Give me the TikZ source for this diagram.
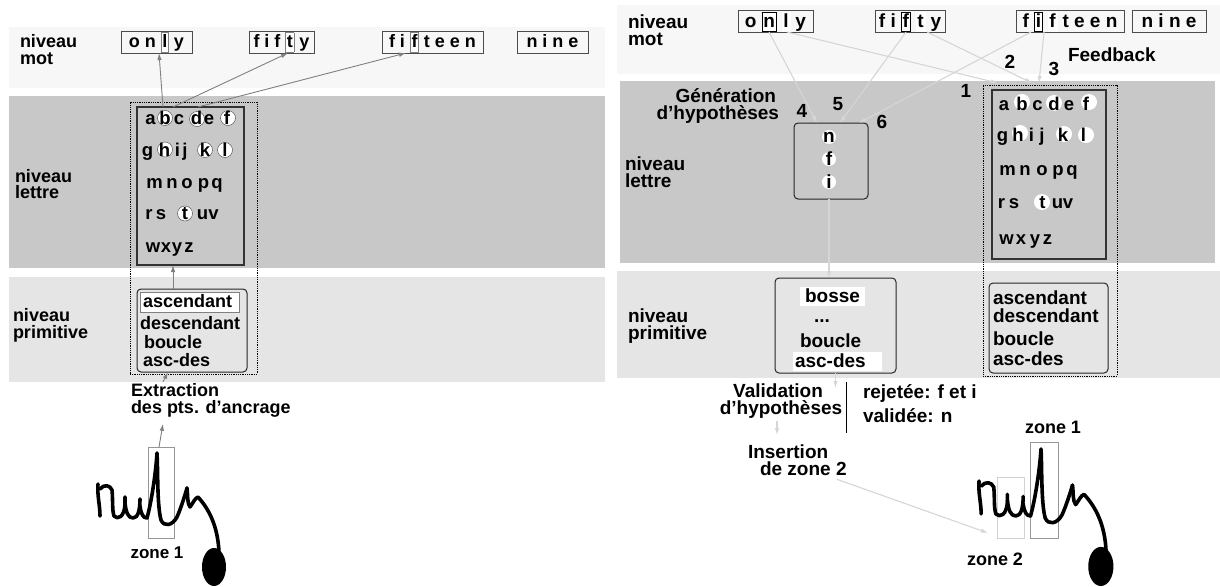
\documentclass[tikz,border=0pt]{standalone}
\usepackage{fontspec}
\setmainfont{Liberation Sans}
\usetikzlibrary{arrows.meta,calc}

\definecolor{wband}{RGB}{247,247,247}
\definecolor{lband}{RGB}{200,200,200}
\definecolor{pband}{RGB}{229,229,229}
\definecolor{arrL}{RGB}{128,128,128}
\definecolor{arrR}{RGB}{214,214,214}
\definecolor{zgray}{RGB}{150,150,150}
\definecolor{zlight}{RGB}{210,210,210}

\newcommand{\hlg}[1]{{\setlength{\fboxsep}{0.8pt}\setlength{\fboxrule}{0.7pt}\fcolorbox{gray}{white}{\rule[-3pt]{0pt}{17pt}#1}}}
\newcommand{\hlk}[1]{{\setlength{\fboxsep}{0.8pt}\setlength{\fboxrule}{0.8pt}\fcolorbox{black}{white}{\rule[-3pt]{0pt}{17pt}#1}}}
\newcommand{\hlw}[1]{{\setlength{\fboxsep}{0.8pt}\setlength{\fboxrule}{0.7pt}\fcolorbox{white}{white}{\rule[-3pt]{0pt}{17pt}#1}}}

\newcommand{\handonly}{%
  \draw[hw] (98,484) .. controls (97,495) and (100,505) .. (100,516);
  \draw[hw] (100,489) .. controls (104,484) and (110,485) .. (112,490) .. controls (113,500) and (112,510) .. (114,516) .. controls (118,520) and (124,517) .. (125,505) -- (125,497);
  \draw[hw] (125,503) .. controls (126,512) and (128,518) .. (133,518) .. controls (138,518) and (140,510) .. (140,499);
  \draw[hw] (140,506) .. controls (141,514) and (143,518) .. (147,518) .. controls (152,500) and (156,470) .. (157,453) .. controls (158,470) and (157,505) .. (161,520) .. controls (164,527) and (172,526) .. (177,517) .. controls (181,508) and (185,495) .. (187,488);
  \draw[hw] (187,488) .. controls (188,496) and (187,503) .. (190,507) .. controls (193,503) and (195,498) .. (198,497) .. controls (208,508) and (218,525) .. (219,553);
  \fill[black] (214,567) ellipse [x radius=12, y radius=19];
}

\begin{document}
\begin{tikzpicture}[x=1pt,y=-1pt,
  fL/.style={font=\bfseries\fontsize{18}{16}\selectfont},
  fR/.style={font=\bfseries\fontsize{19}{17}\selectfont},
  fG/.style={font=\bfseries\fontsize{18.5}{18}\selectfont},
  txt/.style={inner sep=0pt, outer sep=0pt},
  wbox/.style={draw=black!70, line width=0.9pt, inner sep=0pt, outer sep=0pt},
  lbox/.style={draw=black!80, line width=1.1pt, inner sep=0pt, outer sep=0pt},
  rbox/.style={draw=black!85, line width=1pt, rounded corners=4pt, inner sep=0pt, outer sep=0pt},
  dotbox/.style={draw=black, line width=0.8pt, densely dotted, inner sep=0pt, outer sep=0pt},
  wfill/.style={fill=white, inner sep=0pt, outer sep=0pt},
  larr/.style={draw=arrL, line width=0.9pt, -{Latex[length=7pt,width=4.5pt]}},
  rarr/.style={draw=arrR, line width=1.1pt, -{Latex[length=7pt,width=4.5pt]}},
  hcL/.style={circle, fill=white, draw=black!65, line width=0.5pt, minimum size=15pt, inner sep=0pt},
  hcR/.style={circle, fill=white, minimum size=15pt, inner sep=0pt},
  zbox/.style={draw=zgray, line width=0.8pt, inner sep=0pt, outer sep=0pt},
  hw/.style={draw=black, line width=3.6pt, line cap=round, line join=round}
]
\useasboundingbox (0,0) rectangle (1220,586);
\fill[white] (0,0) rectangle (1220,586);

% ---------------- bands
\fill[wband] (9,27) rectangle (605,88);
\fill[lband] (9,96) rectangle (605,268);
\fill[pband] (9,277) rectangle (605,382);
\fill[wband] (617,5) rectangle (1220,74);
\fill[lband] (620,81) rectangle (1215,263);
\fill[pband] (617,271) rectangle (1220,378);

% ---------------- LEFT PANEL
\node[txt,fL,anchor=base west] (lm1) at (20,48) {niveau};
\node[txt,fL,anchor=base west] (lm2) at (20,64) {mot};
\node[txt,fL,anchor=base west] (ll1) at (15,182) {niveau};
\node[txt,fL,anchor=base west] (ll2) at (15,198) {lettre};
\node[txt,fL,anchor=base west] (lp1) at (13,321) {niveau};
\node[txt,fL,anchor=base west] (lp2) at (13,338) {primitive};

\node[wbox,fL,minimum width=71pt,minimum height=22pt,text height=14pt,text depth=2pt] (w1) at (156.5,42) {o n \hlg{l} y};
\node[wbox,fL,minimum width=65pt,minimum height=22pt,text height=14pt,text depth=2pt] (w2) at (281.5,42) {f i f \hlg{t} y};
\node[wbox,fL,minimum width=101pt,minimum height=22pt,text height=14pt,text depth=2pt] (w3) at (432.5,42) {f i \hlg{f} t e e n};
\node[wbox,fL,minimum width=71pt,minimum height=22pt,text height=14pt,text depth=2pt] (w4) at (552.5,42) {n i n e};

\node[dotbox,minimum width=127pt,minimum height=272pt] (ldot) at (193.5,238) {};
\node[lbox,minimum width=107pt,minimum height=158pt] (lbox) at (190.5,186) {};

\foreach \x/\y [count=\i] in {165/118,197/119,228/118,165/149.5,205/150,225/150,185/213.5}
  \node[hcL] (lc\i) at (\x,\y) {};
\foreach \c/\x/\y [count=\i] in {a/150.5/124,b/165/124,c/179/124,d/196.5/124,e/209/124,f/227/124,
  g/147.5/156,h/164.5/156,i/177.5/156,j/185/156,k/205/156,l/225/156,
  m/154.5/188,n/172/188,o/187/188,p/203.5/188,q/217/188,
  r/149/219,s/161/219,t/185/219,u/202.5/219,v/213.5/219,
  w/153/252,x/166/252,y/177/252,z/189/252}
  \node[txt,fG,anchor=base] (ll\i) at (\x,\y) {\c};

\node[rbox,minimum width=110pt,minimum height=83pt] (pbox) at (192,330.5) {};
\node[wfill,draw=gray,line width=0.7pt,minimum width=99pt,minimum height=20pt] (ascw) at (189.5,302) {};
\node[txt,fL,anchor=base west] (lpa) at (143,307) {ascendant};
\node[txt,fL,anchor=base west] (lpd) at (140,329) {descendant};
\node[txt,fL,anchor=base west] (lpb) at (144,348) {boucle};
\node[txt,fL,anchor=base west] (lpc) at (143,366) {asc-des};

\node[txt,fL,anchor=base west] (ext1) at (131,396) {Extraction};
\node[txt,fL,anchor=base west] (ext2) at (131,413) {des pts. d’ancrage};

\node[zbox,minimum width=26pt,minimum height=91pt] (z1) at (161,492.5) {};
\node[txt,font=\bfseries\fontsize{17}{15}\selectfont,anchor=base] (z1t) at (157,558) {zone 1};
\handonly

\draw[larr] ([shift={(26,0)}]lbox.north west) -- ([shift={(2.5,0)}]w1.south);
\draw[larr] ([shift={(36,0)}]lbox.north west) -- ([shift={(6.5,0)}]w2.south);
\draw[larr] ([shift={(61,0)}]lbox.north west) -- ([shift={(-26.5,0)}]w3.south);
\draw[larr] ([shift={(-19,0)}]pbox.north) -- ([shift={(-17.5,0)}]lbox.south);
\draw[larr] ([shift={(32,-1)}]ext1.north west) -- ([shift={(-24,0)}]pbox.south);
\draw[larr] ([shift={(-2,0)}]z1.north) -- ([shift={(32,7)}]ext2.south west);

% ---------------- RIGHT PANEL
\node[txt,fR,anchor=base west] (rm1) at (628,29) {niveau};
\node[txt,fR,anchor=base west] (rm2) at (628,46) {mot};
\node[txt,fR,anchor=base west] (rl1) at (625,170) {niveau};
\node[txt,fR,anchor=base west] (rl2) at (625,187) {lettre};
\node[txt,fR,anchor=base west] (rp1) at (628,322) {niveau};
\node[txt,fR,anchor=base west] (rp2) at (628,339) {primitive};

\node[wbox,fR,minimum width=75pt,minimum height=22pt,text height=15pt,text depth=2pt] (rw1) at (775.5,21) {o \hlk{n} \hlw{l} y};
\node[wbox,fR,minimum width=70pt,minimum height=22pt,text height=15pt,text depth=2pt] (rw2) at (910,21) {f i \hlk{f} \hlw{t} y};
\node[wbox,fR,minimum width=108pt,minimum height=22pt,text height=15pt,text depth=2pt] (rw3) at (1070,21) {f \hlk{i} \hlw{f} t e e n};
\node[wbox,fR,minimum width=74pt,minimum height=22pt,text height=15pt,text depth=2pt] (rw4) at (1169,21) {n i n e};

\node[txt,fR,anchor=base west] (fb) at (1068,62) {Feedback};
\node[txt,fR,anchor=base] (n1) at (966,97) {1};
\node[txt,fR,anchor=base] (n2) at (1010,68) {2};
\node[txt,fR,anchor=base] (n3) at (1054,75) {3};
\node[txt,fR,anchor=base] (n4) at (802,117) {4};
\node[txt,fR,anchor=base] (n5) at (838,110) {5};
\node[txt,fR,anchor=base] (n6) at (882,128) {6};
\node[txt,fR,anchor=base east] (gen1) at (776,102) {Génération};
\node[txt,fR,anchor=base east] (gen2) at (779,119) {d’hypothèses};

\node[rbox,minimum width=74pt,minimum height=76pt] (hyp) at (831,161) {};
\foreach \y [count=\i] in {137,159,182}
  \node[hcR,minimum size=14pt] (hc\i) at (829,\y) {};
\node[txt,fR,anchor=base] (hn) at (829,142) {n};
\node[txt,fR,anchor=base] (hf) at (829,165) {f};
\node[txt,fR,anchor=base] (hi) at (829,188) {i};

\node[dotbox,minimum width=134pt,minimum height=291pt] (rdot) at (1050,230.5) {};
\node[lbox,minimum width=114pt,minimum height=169pt] (rlbox) at (1049,174.5) {};
\foreach \x/\y [count=\i] in {1022/102,1054/103,1089/102,1020/133,1064/134,1086/135,1042/202}
  \node[hcR,minimum size=16pt] (rc\i) at (\x,\y) {};
\foreach \c/\x/\y [count=\i] in {a/1004/110,b/1022/110,c/1037.5/110,d/1054/110,e/1069/110,f/1086/110,
  g/1002.5/141,h/1018/141,i/1031.5/141,j/1042/141,k/1063/141,l/1083.5/141,
  m/1007.5/175,n/1025/175,o/1042/175,p/1058/175,q/1072/175,
  r/1001.5/208,s/1014/208,t/1042.5/208,u/1057.5/208,v/1068/208,
  w/1006.5/244,x/1021/244,y/1035/244,z/1047.5/244}
  \node[txt,fG,anchor=base] (rl\i) at (\x,\y) {\c};

\node[rbox,minimum width=121pt,minimum height=95pt] (bbox) at (835.5,325.5) {};
\node[wfill,minimum width=65pt,minimum height=19pt] (bossew) at (832.5,296) {};
\node[wfill,minimum width=89pt,minimum height=19pt] (ascdw) at (837.5,361) {};
\node[txt,fR,anchor=base] (bb1) at (832.5,302) {bosse};
\node[txt,fR,anchor=base] (bb2) at (822,322) {...};
\node[txt,fR,anchor=base west] (bb3) at (800,347) {boucle};
\node[txt,fR,anchor=base west] (bb4) at (795,367) {asc-des};

\node[rbox,minimum width=119pt,minimum height=90pt] (rpbox) at (1048.5,328) {};
\node[txt,fR,anchor=base west] (rpa) at (993,304) {ascendant};
\node[txt,fR,anchor=base west] (rpd) at (993,322) {descendant};
\node[txt,fR,anchor=base west] (rpb) at (993,345) {boucle};
\node[txt,fR,anchor=base west] (rpc) at (993,365) {asc-des};

\node[txt,fR,anchor=base] (val1) at (778,397) {Validation};
\node[txt,fR,anchor=base] (val2) at (781,414) {d’hypothèses};
\draw[black,line width=1pt] (846,382) -- (846,433);
\node[txt,fR,anchor=base west] (rej) at (863,398) {rejetée: f et i};
\node[txt,fR,anchor=base west] (vald) at (863,422) {validée: n};
\node[txt,fR,anchor=base west] (ins1) at (748,458) {Insertion};
\node[txt,fR,anchor=base west] (ins2) at (760,475) {de zone 2};
\coordinate (valtip) at (835.5,388);
\coordinate (instip) at (777,435);

\node[zbox,minimum width=28pt,minimum height=96pt] (rz1) at (1044,490) {};
\node[zbox,draw=zlight,minimum width=27pt,minimum height=61pt] (rz2) at (1010.5,507.5) {};
\node[txt,font=\bfseries\fontsize{18}{16}\selectfont,anchor=base] (rz1t) at (1053,433) {zone 1};
\node[txt,font=\bfseries\fontsize{18}{16}\selectfont,anchor=base] (rz2t) at (995,565) {zone 2};
\begin{scope}[shift={(978,448)},xscale=1.05,yscale=1.03,shift={(-97,-452)}]
  \handonly
\end{scope}

\draw[rarr] ([shift={(-6.5,0)}]rw1.south) -- ([shift={(-14,0)}]hyp.north);
\draw[rarr] ([shift={(-4,0)}]rw2.south) -- ([shift={(9,0)}]hyp.north);
\draw[rarr] ([shift={(-39,0)}]rw3.south) -- ([shift={(28,0)}]hyp.north);
\draw[rarr] ([shift={(11.5,0)}]rw1.south) -- ([shift={(-52,-2)}]rdot.north);
\draw[rarr] ([shift={(17,0)}]rw2.south) -- ([shift={(-18,-2)}]rdot.north);
\draw[rarr] ([shift={(-26,0)}]rw3.south) -- ([shift={(-11,-2)}]rdot.north);
\draw[rarr] ([shift={(-2,0)}]hyp.south) -- ([shift={(-6.5,0)}]bbox.north);
\draw[rarr] (bbox.south) -- (valtip);
\draw[rarr] ([shift={(-4,3)}]val2.south) -- (instip);
\draw[rarr] ([shift={(-10,4)}]ins2.south east) -- ([shift={(-9,-5)}]rz2.south west);
\end{tikzpicture}
\end{document}
